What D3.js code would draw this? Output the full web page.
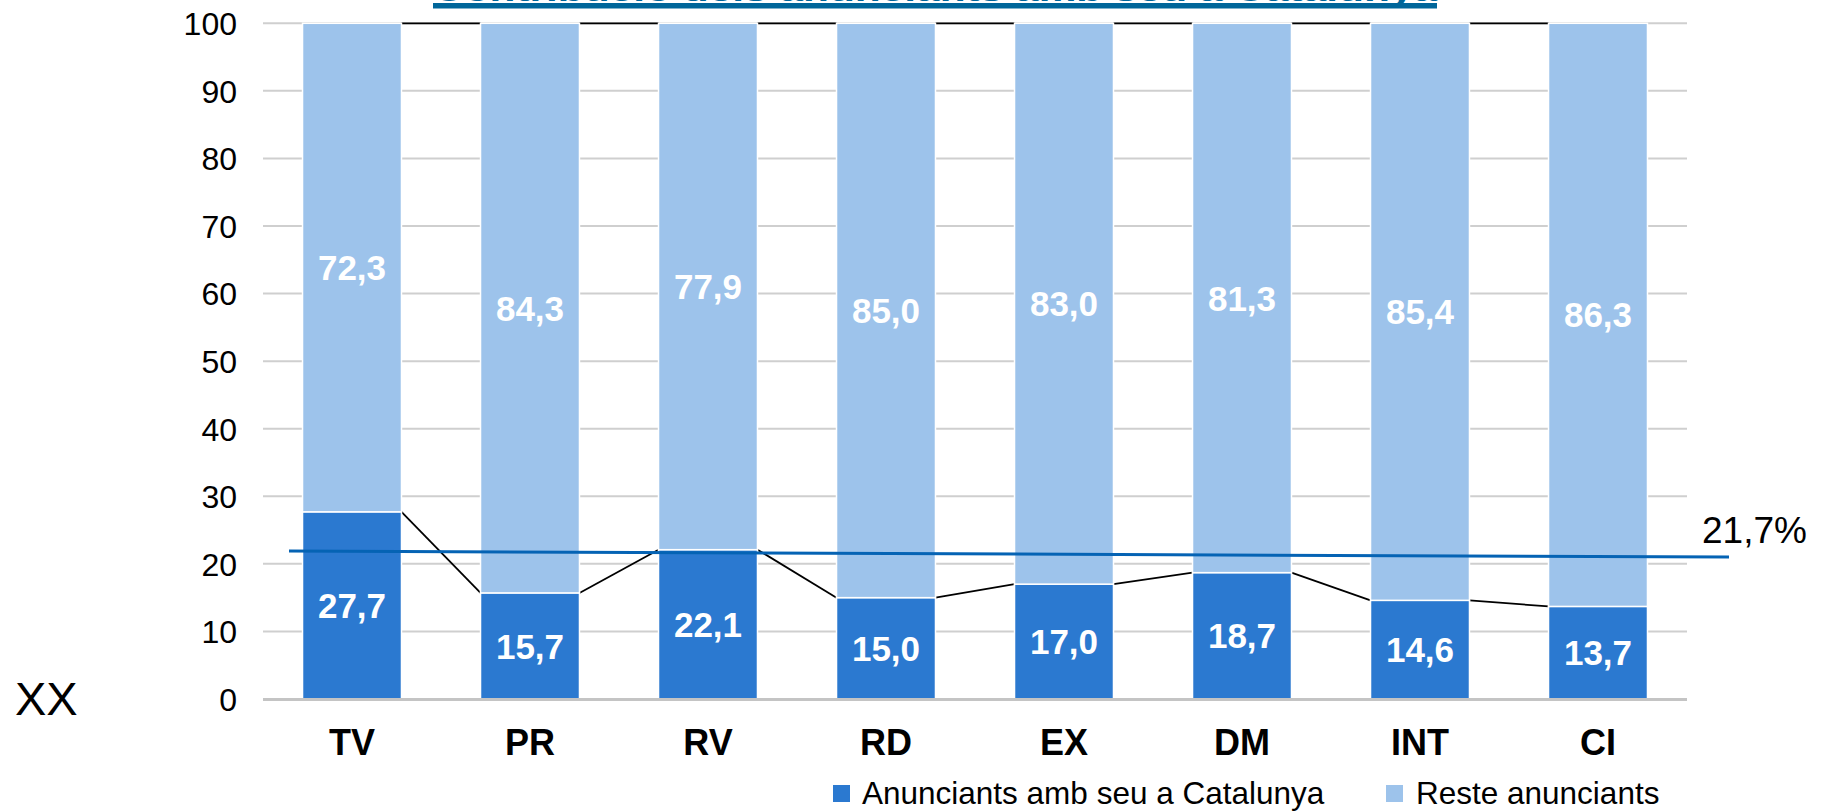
<!DOCTYPE html>
<html>
<head>
<meta charset="utf-8">
<script src="https://cdn.jsdelivr.net/npm/d3@7/dist/d3.min.js"></script>
<style>
  html, body { margin: 0; padding: 0; background: #ffffff; }
  svg { display: block; font-family: "Liberation Sans", Arial, sans-serif; }
</style>
</head>
<body>
<svg id="chart" width="1823" height="811"></svg>
<script>
const categories = ["TV", "PR", "RV", "RD", "EX", "DM", "INT", "CI"];
const catalunya = [27.7, 15.7, 22.1, 15.0, 17.0, 18.7, 14.6, 13.7];
const reste = [72.3, 84.3, 77.9, 85.0, 83.0, 81.3, 85.4, 86.3];
const yTicks = [0, 10, 20, 30, 40, 50, 60, 70, 80, 90, 100];
const seriesNames = ["Anunciants amb seu a Catalunya", "Reste anunciants"];
const averageValue = 21.7;
const averageLineEnds = [21.9, 21.0];
const averageLabel = "21,7%";
const titleText = "Contribució dels anunciants amb seu a Catalunya";
const sideLabel = "XX";

const colors = { dark: "#2b79d0", light: "#9dc3eb", avg: "#0563b4", title: "#00669a" };
const fmt = v => v.toFixed(1).replace(".", ",");

const svg = d3.select("#chart");
const plotLeft = 263, plotRight = 1687, plotTop = 23.3, plotBottom = 699;

const x = d3.scaleBand().domain(categories).range([plotLeft, plotRight])
  .paddingInner(0.444).paddingOuter(0.222);
const y = d3.scaleLinear().domain([0, 100]).range([plotBottom, plotTop]);

// title (mostly clipped above the frame, as in the reference)
svg.append("text").attr("x", 433).attr("y", 0.5)
  .attr("textLength", 1004).attr("lengthAdjust", "spacingAndGlyphs")
  .attr("font-size", 30).attr("font-weight", "bold").attr("fill", colors.title)
  .text(titleText);
svg.append("rect").attr("x", 433).attr("y", 3).attr("width", 1004).attr("height", 5.5)
  .attr("fill", colors.title);

// gridlines
svg.append("g").selectAll("line").data(yTicks.filter(d => d > 0)).join("line")
  .attr("x1", plotLeft).attr("x2", plotRight)
  .attr("y1", d => y(d)).attr("y2", d => y(d))
  .attr("stroke", "#cfcfcf").attr("stroke-width", 2);

// y axis labels
const yAxis = d3.axisLeft(y).tickValues(yTicks).tickSize(0).tickPadding(0).tickFormat(d3.format("d"));
const yg = svg.append("g").attr("transform", `translate(237,0)`).call(yAxis);
yg.select(".domain").remove();
yg.selectAll("text").attr("font-size", 32).attr("fill", "#000")
  .attr("font-family", "Liberation Sans, Arial, sans-serif").attr("dy", "0.355em");

// stacked data
const rows = categories.map((c, i) => ({ cat: c, a: catalunya[i], b: reste[i] }));

// series lines (connectors)
const conn = svg.append("g").attr("stroke", "#000").attr("stroke-width", 1.8);
rows.slice(0, -1).forEach((r, i) => {
  const n = rows[i + 1];
  conn.append("line")
    .attr("x1", x(r.cat) + x.bandwidth()).attr("x2", x(n.cat))
    .attr("y1", y(r.a)).attr("y2", y(n.a));
  conn.append("line")
    .attr("x1", x(r.cat) + x.bandwidth()).attr("x2", x(n.cat))
    .attr("y1", y(r.a + r.b)).attr("y2", y(n.a + n.b));
});

// bars
const bars = svg.append("g");
bars.selectAll("rect.dark").data(rows).join("rect").attr("class", "dark")
  .attr("x", d => x(d.cat)).attr("width", x.bandwidth())
  .attr("y", d => y(d.a)).attr("height", d => y(0) - y(d.a))
  .attr("fill", colors.dark).attr("stroke", "#ffffff").attr("stroke-width", 1.5);
bars.selectAll("rect.light").data(rows).join("rect").attr("class", "light")
  .attr("x", d => x(d.cat)).attr("width", x.bandwidth())
  .attr("y", d => y(d.a + d.b)).attr("height", d => y(d.a) - y(d.a + d.b))
  .attr("fill", colors.light).attr("stroke", "#ffffff").attr("stroke-width", 1.5);

// baseline axis
svg.append("line").attr("x1", plotLeft).attr("x2", plotRight)
  .attr("y1", y(0) + 0.5).attr("y2", y(0) + 0.5)
  .attr("stroke", "#c4c4c4").attr("stroke-width", 3);

// value labels
const lbl = svg.append("g").attr("fill", "#fff").attr("font-size", 35)
  .attr("font-weight", "bold").attr("text-anchor", "middle");
rows.forEach(r => {
  const cx = x(r.cat) + x.bandwidth() / 2;
  lbl.append("text").attr("x", cx).attr("y", y(r.a / 2)).attr("dy", "0.36em").text(fmt(r.a));
  lbl.append("text").attr("x", cx).attr("y", y(r.a + r.b / 2)).attr("dy", "0.36em").text(fmt(r.b));
});

// average line
svg.append("line").attr("x1", 289).attr("x2", 1729)
  .attr("y1", y(averageLineEnds[0])).attr("y2", y(averageLineEnds[1]))
  .attr("stroke", colors.avg).attr("stroke-width", 3);
svg.append("text").attr("x", 1702).attr("y", 543).attr("font-size", 37).attr("fill", "#000")
  .text(averageLabel);

// category labels
const xAxis = d3.axisBottom(x).tickSize(0).tickPadding(0);
const xg = svg.append("g").attr("transform", `translate(0,755)`).call(xAxis);
xg.select(".domain").remove();
xg.selectAll("text").attr("font-size", 36).attr("font-weight", "bold").attr("fill", "#000")
  .attr("font-family", "Liberation Sans, Arial, sans-serif").attr("dy", 0);

// side label
svg.append("text").attr("x", 15).attr("y", 715).attr("font-size", 47).attr("fill", "#000").text(sideLabel);

// legend
const legend = [
  { name: seriesNames[0], color: colors.dark, sx: 833, tx: 862 },
  { name: seriesNames[1], color: colors.light, sx: 1386, tx: 1416 }
];
const lg = svg.append("g");
legend.forEach(l => {
  lg.append("rect").attr("x", l.sx).attr("y", 785).attr("width", 17).attr("height", 17).attr("fill", l.color);
  lg.append("text").attr("x", l.tx).attr("y", 804).attr("font-size", 31.5).attr("fill", "#000").text(l.name);
});
</script>
</body>
</html>
